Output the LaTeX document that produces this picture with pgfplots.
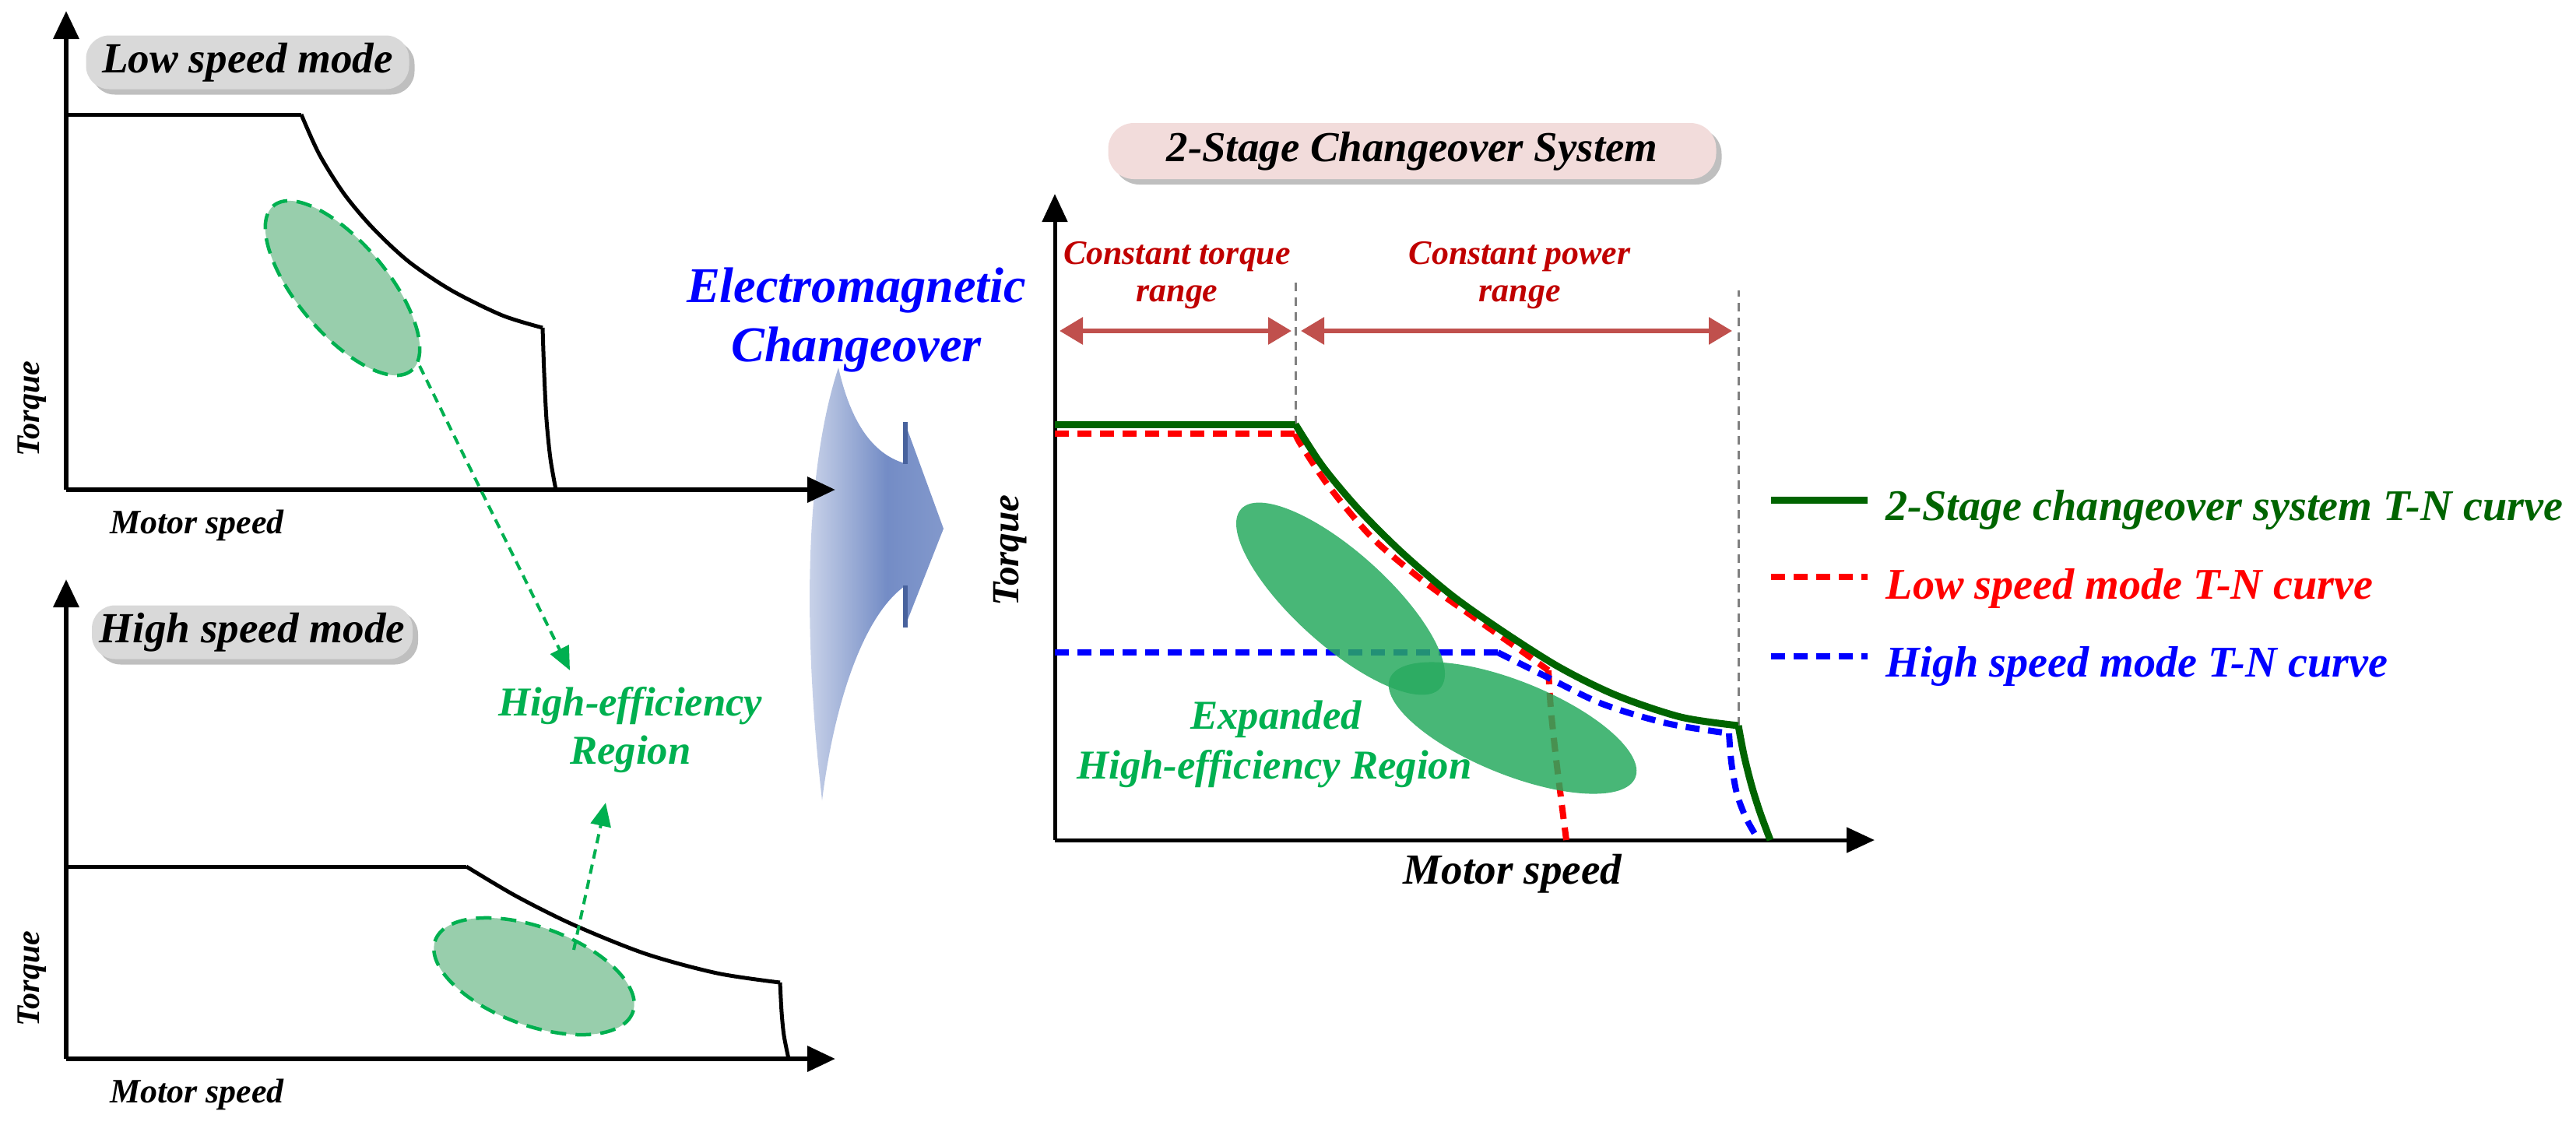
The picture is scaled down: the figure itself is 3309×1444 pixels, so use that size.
\documentclass[border=0pt]{standalone}
\usepackage{fontspec}
\setmainfont{Liberation Serif}
\usepackage{pgfplots}
\pgfplotsset{compat=1.18}
\usetikzlibrary{arrows.meta,shadows}

\definecolor{effgreen}{RGB}{0,176,80}
\definecolor{lightgr}{RGB}{152,206,172}
\definecolor{dkgreen}{RGB}{0,100,0}
\definecolor{rangered}{RGB}{192,0,0}
\definecolor{arrred}{RGB}{192,80,77}
\definecolor{boxgray}{RGB}{217,217,217}
\definecolor{boxpink}{RGB}{242,220,219}
\definecolor{regiongreen}{RGB}{40,170,95}
\definecolor{arrblue}{RGB}{85,115,185}
\definecolor{arrtip}{RGB}{175,190,225}

\pgfdeclarehorizontalshading{arrowshade}{100bp}{color(0bp)=(white); color(22bp)=(arrblue!22);
  color(55bp)=(arrblue!82); color(78bp)=(arrblue!72); color(100bp)=(arrtip)}

\newcommand\fs[1]{\fontsize{#1pt}{#1pt}\selectfont\bfseries\itshape}

\tikzset{dashline/.style={line width=0.8mm, dash pattern=on 1.8mm off 1.1mm}}
\pgfplotsset{
  panel/.style={scale only axis, axis lines=left, xtick=\empty, ytick=\empty,
    xmin=0, ymin=0, clip=false, anchor=south west,
    axis line style={line width=0.65mm, -{Triangle[length=3.6mm,width=3.2mm]}}},
}

\begin{document}
\begin{tikzpicture}[x=0.1mm, y=-0.1mm]
\path[use as bounding box] (0,0) rectangle (3309,1444);

% changeover arrow (behind everything)
\shade[shading=arrowshade]
  (1077,472) .. controls (1092,540) and (1120,583) .. (1162,595) -- (1162,542) -- (1212,679)
  -- (1162,806) -- (1162,753) .. controls (1110,790) and (1072,900) .. (1056,1028)
  .. controls (1030,800) and (1035,600) .. (1077,472) -- cycle;
\draw[arrblue!85!black, line width=0.6mm] (1163,542) -- (1163,596) (1163,752) -- (1163,806);

% ---- low speed mode
\begin{axis}[panel, at={(8.5mm,-62.9mm)}, width=98.8mm, height=61.5mm, xmax=988, ymax=615]
\addplot[black, line width=0.5mm] coordinates {(0,482) (302,482)};
\addplot[black, line width=0.5mm, smooth] coordinates {
  (302,482) (325,431) (357,380) (394,336) (440,293) (495,256) (560,224) (612,208)};
\addplot[black, line width=0.5mm, smooth] coordinates {(612,208) (614,150) (617,90) (622,40) (629,0)};
\end{axis}

% ---- high speed mode
\begin{axis}[panel, at={(8.5mm,-136mm)}, width=98.8mm, height=61.6mm, xmax=988, ymax=616]
\addplot[black, line width=0.5mm] coordinates {(0,247) (514,247)};
\addplot[black, line width=0.5mm, smooth] coordinates {
  (514,247) (578,209) (652,172) (744,135) (836,110) (917,98)};
\addplot[black, line width=0.5mm, smooth] coordinates {(917,98) (919,60) (922,30) (928,0)};
\end{axis}

% ---- 2-stage system
\begin{axis}[panel, at={(135.5mm,-107.9mm)}, width=105.3mm, height=83mm, xmax=1053, ymax=830,
  axis line style={line width=0.5mm, -{Triangle[length=3.6mm,width=3.2mm]}}]
\addplot[gray, line width=0.3mm, dash pattern=on 1.1mm off 0.8mm] coordinates {(309,534) (309,720)};
\addplot[gray, line width=0.3mm, dash pattern=on 1.1mm off 0.8mm] coordinates {(878,147) (878,706)};
% low speed mode
\addplot[red, dashline] coordinates {(0,522) (309,522)};
\addplot[red, dashline, smooth] coordinates {
  (309,522) (316,508) (353,453) (408,388) (473,333) (537,287) (602,241) (634,218)};
\addplot[red, dashline, smooth] coordinates {(634,218) (637,170) (643,112) (650,55) (657,0)};
% high speed mode
\addplot[blue, dashline] coordinates {(0,241) (569,241)};
\addplot[blue, dashline, smooth] coordinates {(569,241) (629,211) (703,175) (786,150) (866,137)};
\addplot[blue, dashline, smooth] coordinates {(866,137) (869,100) (876,60) (888,28) (904,0)};
% 2-stage system
\addplot[dkgreen, line width=0.9mm] coordinates {(0,534) (309,534)};
\addplot[dkgreen, line width=0.9mm, smooth] coordinates {
  (309,534) (344,480) (390,425) (445,370) (509,315) (574,269) (648,222) (721,186) (804,158) (878,147)};
\addplot[dkgreen, line width=0.9mm, smooth] coordinates {(878,147) (885,110) (895,70) (906,35) (919,0)};
\end{axis}

% high-efficiency regions, left
\begin{scope}[line width=0.45mm, dash pattern=on 2mm off 1.2mm]
\filldraw[fill=lightgr, draw=effgreen, rotate around={-50:(440,370)}] (440,370) ellipse [x radius=138, y radius=58];
\filldraw[fill=lightgr, draw=effgreen, rotate around={-20:(686,1254)}] (686,1254) ellipse [x radius=135, y radius=63];
\end{scope}
\draw[effgreen, line width=0.4mm, dash pattern=on 1.2mm off 0.8mm, -{Triangle[length=3mm,width=2.6mm]}] (539,470) -- (732,861);
\draw[effgreen, line width=0.4mm, dash pattern=on 1.2mm off 0.8mm, -{Triangle[length=3mm,width=2.6mm]}] (737,1220) -- (778,1031);

% expanded region, right
\fill[regiongreen, fill opacity=0.85, rotate around={-42:(1722,769)}] (1722,769) ellipse [x radius=172, y radius=60];
\fill[regiongreen, fill opacity=0.85, rotate around={-22:(1943,935)}] (1943,935) ellipse [x radius=170, y radius=60];

% range arrows
\draw[arrred, line width=0.6mm, {Triangle[length=3mm,width=3.4mm]}-{Triangle[length=3mm,width=3.4mm]}] (1361,425) -- (1659,425);
\draw[arrred, line width=0.6mm, {Triangle[length=3mm,width=3.4mm]}-{Triangle[length=3mm,width=3.4mm]}] (1671,425) -- (2225,425);

% title boxes
\node[fill=boxgray, rounded corners=3mm, minimum width=41.5mm, minimum height=6.9mm, inner sep=0,
  drop shadow={shadow xshift=0.7mm, shadow yshift=-0.7mm}] at (318,80) {\fs{15.7}Low speed mode};
\node[fill=boxgray, rounded corners=3mm, minimum width=41.2mm, minimum height=6.9mm, inner sep=0,
  drop shadow={shadow xshift=0.7mm, shadow yshift=-0.7mm}] at (324,812) {\fs{15.7}High speed mode};
\node[fill=boxpink, rounded corners=3.3mm, minimum width=78.1mm, minimum height=7.2mm, inner sep=0,
  drop shadow={shadow xshift=0.7mm, shadow yshift=-0.7mm}] at (1814,194) {\fs{15.6}2-Stage Changeover System};

% labels
\begin{scope}[every node/.style={inner sep=0}]
\node[rotate=90] at (41,525) {\fs{12}Torque};
\node[rotate=90] at (41,1257) {\fs{12}Torque};
\node at (253,675) {\fs{12.5}Motor speed};
\node at (253,1406) {\fs{12.5}Motor speed};
\node[effgreen] at (810,907) {\fs{15}High-efficiency};
\node[effgreen] at (810,969) {\fs{15}Region};
\node[blue] at (1100,373) {\fs{18.3}Electromagnetic};
\node[blue] at (1100,449) {\fs{18.3}Changeover};
\node[rangered] at (1512,330) {\fs{12.5}Constant torque};
\node[rangered] at (1512,382) {\fs{12.5}range};
\node[rangered] at (1952,330) {\fs{12.5}Constant power};
\node[rangered] at (1952,382) {\fs{12.5}range};
\node[rotate=90] at (1298,707) {\fs{14}Torque};
\node at (1943,1122) {\fs{15.7}Motor speed};
\node[effgreen] at (1639,924) {\fs{15}Expanded};
\node[effgreen] at (1637,988) {\fs{15}High-efficiency Region};
% legend
\draw[dkgreen, line width=0.9mm] (2275,642) -- (2399,642);
\draw[red, dashline] (2275,741) -- (2399,741);
\draw[blue, dashline] (2275,843) -- (2399,843);
\node[dkgreen, anchor=base west] at (2422,668) {\fs{16}2-Stage changeover system T-N curve};
\node[red, anchor=base west] at (2422,769) {\fs{16}Low speed mode T-N curve};
\node[blue, anchor=base west] at (2422,869) {\fs{16}High speed mode T-N curve};
\end{scope}
\end{tikzpicture}
\end{document}
